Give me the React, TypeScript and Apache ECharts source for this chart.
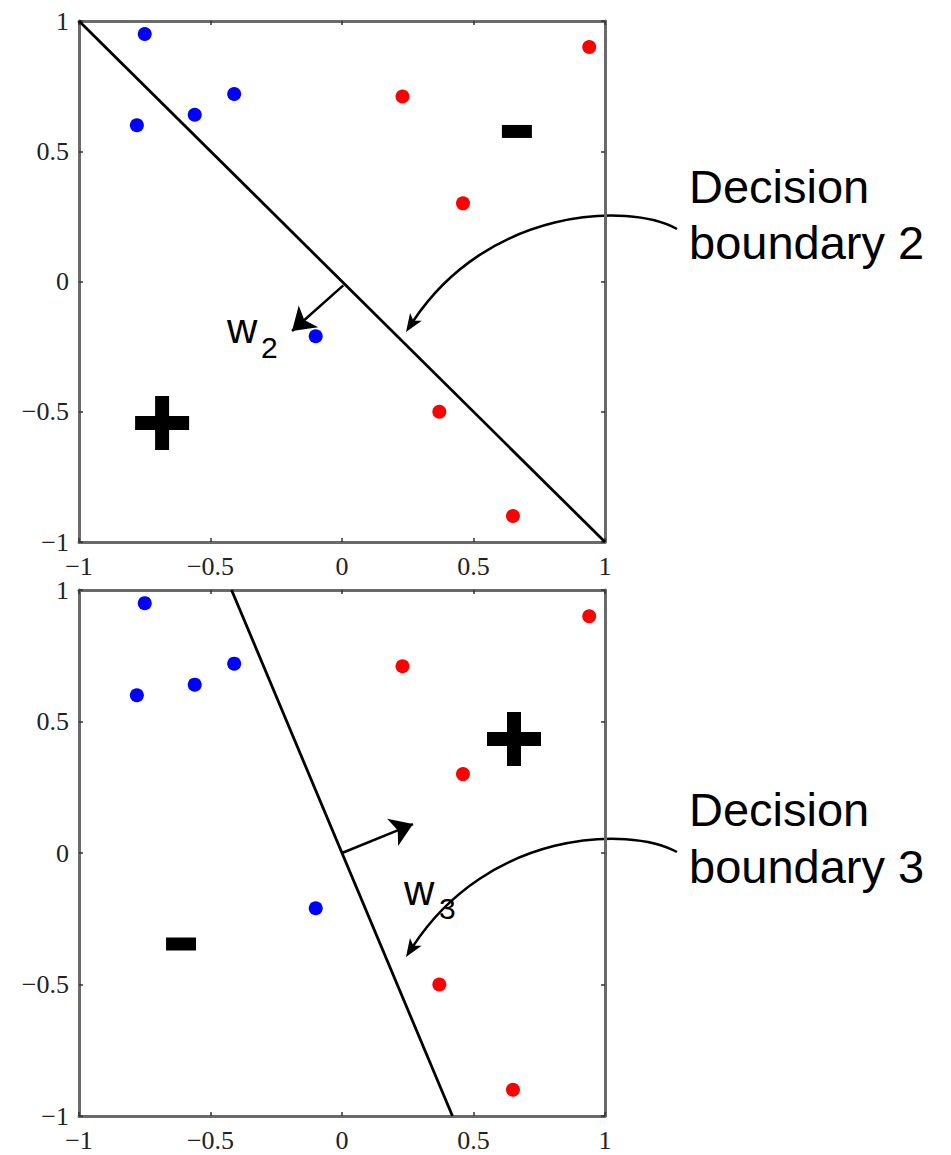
import React, { useEffect, useRef } from "react";
import * as echarts from "echarts";

// ---- data ----
const blueX = [-0.75, -0.78, -0.56, -0.41, -0.1];
const blueY = [0.95, 0.6, 0.64, 0.72, -0.21];
const redX = [0.94, 0.23, 0.46, 0.37, 0.65];
const redY = [0.9, 0.71, 0.3, -0.5, -0.9];

const boundary2X = [-1, 1];
const boundary2Y = [1, -1];
const boundary3X = [-0.42, 0.42];
const boundary3Y = [1, -1];

const w2From = [0.005, -0.015];
const w2To = [-0.19, -0.19];
const w3From = [0, 0];
const w3To = [0.27, 0.11];

const topPlus = [-0.684, -0.543];
const topMinus = [0.665, 0.576];
const bottomPlus = [0.654, 0.433];
const bottomMinus = [-0.612, -0.346];

const tickValues = [-1, -0.5, 0, 0.5, 1];

const serif = '"Liberation Serif", "Times New Roman", serif';
const sans = '"Liberation Sans", Arial, sans-serif';
const axisColor = "#6a6a6a";

const fmt = (v: number) => (v < 0 ? "\u2212" + String(Math.abs(v)) : String(v));

function axisDef(gridIndex: number, position: string, labels: boolean, margin: number) {
  return {
    type: "value",
    gridIndex,
    position,
    min: tickValues[0],
    max: tickValues[tickValues.length - 1],
    interval: 0.5,
    axisLine: { show: true, onZero: false, lineStyle: { color: axisColor, width: 3 } },
    axisTick: { show: true, inside: true, length: 4, lineStyle: { color: "#333", width: 1.5 } },
    axisLabel: {
      show: labels,
      margin,
      fontFamily: serif,
      fontSize: 26,
      color: "#222",
      formatter: fmt,
      showMinLabel: true,
      showMaxLabel: true,
    },
    splitLine: { show: false },
  };
}

const zip = (xs: number[], ys: number[]) => xs.map((x, i) => [x, ys[i]]);

const PLUS = "path://M20,0H34V20H54V34H34V54H20V34H0V20H20Z";

function seriesFor(gi: number, bx: number[], by: number[], wFrom: number[], wTo: number[], plus: number[], minus: number[]) {
  const xi = gi * 2;
  const yi = gi * 2;
  return [
    {
      type: "line",
      xAxisIndex: xi,
      yAxisIndex: yi,
      data: zip(bx, by),
      symbol: "none",
      lineStyle: { color: "#000", width: 2.8 },
      silent: true,
      z: 3,
      markLine: {
        silent: true,
        symbol: ["none", "arrow"],
        symbolSize: 22,
        label: { show: false },
        itemStyle: { color: "#000" },
        lineStyle: { color: "#000", width: 2.5, type: "solid", opacity: 1 },
        data: [[{ coord: wFrom }, { coord: wTo }]],
      },
    },
    {
      type: "scatter",
      xAxisIndex: xi,
      yAxisIndex: yi,
      data: zip(blueX, blueY),
      symbolSize: 14,
      itemStyle: { color: "#0000ff", opacity: 1 },
      silent: true,
      z: 4,
    },
    {
      type: "scatter",
      xAxisIndex: xi,
      yAxisIndex: yi,
      data: zip(redX, redY),
      symbolSize: 14,
      itemStyle: { color: "#ff0000", opacity: 1 },
      silent: true,
      z: 4,
    },
    {
      type: "scatter",
      xAxisIndex: xi,
      yAxisIndex: yi,
      data: [plus],
      symbol: PLUS,
      symbolSize: [54, 54],
      itemStyle: { color: "#000", opacity: 1 },
      silent: true,
    },
    {
      type: "scatter",
      xAxisIndex: xi,
      yAxisIndex: yi,
      data: [minus],
      symbol: "rect",
      symbolSize: [30, 13],
      itemStyle: { color: "#000", opacity: 1 },
      silent: true,
    },
  ];
}

function curvedArrow(p0: number[], p1: number[], p2: number[], tip: number[]) {
  const dx = tip[0] - p2[0];
  const dy = tip[1] - p2[1];
  const n = Math.hypot(dx, dy);
  const ux = dx / n;
  const uy = dy / n;
  const len = 18;
  const hw = 7;
  const bx = tip[0] - ux * len;
  const by = tip[1] - uy * len;
  const px = -uy;
  const py = ux;
  const ex = tip[0] - ux * len * 0.7;
  const ey = tip[1] - uy * len * 0.7;
  return [
    {
      type: "bezierCurve",
      shape: { x1: p0[0], y1: p0[1], cpx1: p1[0], cpy1: p1[1], cpx2: p2[0], cpy2: p2[1], x2: ex, y2: ey },
      style: { stroke: "#000", lineWidth: 2.5, fill: null },
      silent: true,
    },
    {
      type: "polygon",
      shape: {
        points: [
          [tip[0], tip[1]],
          [bx + px * hw, by + py * hw],
          [tip[0] - ux * len * 0.75, tip[1] - uy * len * 0.75],
          [bx - px * hw, by - py * hw],
        ],
      },
      style: { fill: "#000" },
      silent: true,
    },
  ];
}

function txt(text: string, x: number, y: number, size: number) {
  return {
    type: "text",
    x,
    y,
    silent: true,
    style: { text, fontFamily: sans, fontSize: size, fill: "#000", align: "left", verticalAlign: "middle" },
  };
}

export default function App() {
  const ref = useRef<HTMLDivElement>(null);
  useEffect(() => {
    if (!ref.current) return;
    const chart = echarts.init(ref.current, null, { renderer: "svg" });
    chart.setOption({
      animation: false,
      backgroundColor: "#fff",
      grid: [
        { left: 79, top: 21, width: 526, height: 521 },
        { left: 79, top: 590, width: 526, height: 526 },
      ],
      xAxis: [axisDef(0, "bottom", true, 11), axisDef(0, "top", false, 11), axisDef(1, "bottom", true, 11), axisDef(1, "top", false, 11)],
      yAxis: [axisDef(0, "left", true, 10), axisDef(0, "right", false, 10), axisDef(1, "left", true, 10), axisDef(1, "right", false, 10)],
      series: [
        ...seriesFor(0, boundary2X, boundary2Y, w2From, w2To, topPlus, topMinus),
        ...seriesFor(1, boundary3X, boundary3Y, w3From, w3To, bottomPlus, bottomMinus),
      ],
      graphic: [
        txt("Decision", 689, 186, 47),
        txt("boundary 2", 689, 242, 47),
        txt("Decision", 689, 809, 47),
        txt("boundary 3", 689, 866, 47),
        txt("w", 227, 328, 42),
        txt("2", 261, 347, 30),
        txt("w", 404, 890, 42),
        txt("3", 439, 908, 30),
        ...curvedArrow([677, 229], [628, 202], [488, 208], [406, 332]),
        ...curvedArrow([677, 852], [628, 825], [488, 831], [406, 957]),
      ],
    });
    return () => chart.dispose();
  }, []);
  return <div ref={ref} style={{ position: "absolute", left: 0, top: 0, width: 951, height: 1155, background: "#fff" }} />;
}
